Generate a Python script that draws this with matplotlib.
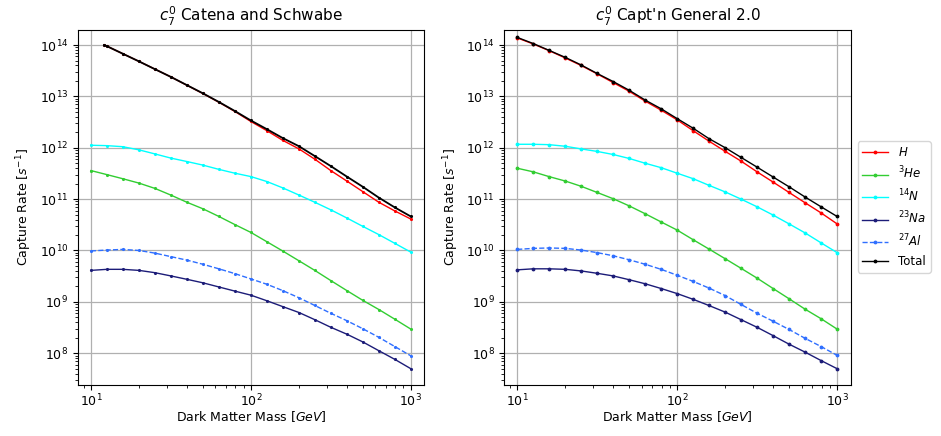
import matplotlib.pyplot as plt
import numpy as np

# dark matter masses (GeV), 0.1 decade steps
mass = [10, 12.6, 15.8, 20, 25.1, 31.6, 39.8, 50.1, 63.1, 79.4, 100,
        126, 158, 200, 251, 316, 398, 501, 631, 794, 1000]
# left panel H / Total start a bit later
mass_h_left = [12.1] + mass[1:]

# ---- Catena and Schwabe ----
cs_H = [1.0e14, 9.5e13, 6.8e13, 4.8e13, 3.4e13, 2.4e13, 1.65e13, 1.14e13, 7.7e12, 5.1e12, 3.25e12,
        2.15e12, 1.4e12, 9.5e11, 6.0e11, 3.6e11, 2.25e11, 1.4e11, 8.7e10, 5.9e10, 4.1e10]
cs_He3 = [3.6e11, 3.0e11, 2.5e11, 2.05e11, 1.62e11, 1.2e11, 8.7e10, 6.5e10, 4.6e10, 3.2e10, 2.25e10,
          1.48e10, 9.8e9, 6.3e9, 4.1e9, 2.6e9, 1.66e9, 1.07e9, 7.1e8, 4.6e8, 2.95e8]
cs_N14 = [1.12e12, 1.1e12, 1.05e12, 9.1e11, 7.6e11, 6.3e11, 5.4e11, 4.6e11, 3.8e11, 3.2e11, 2.75e11,
          2.2e11, 1.66e11, 1.2e11, 8.7e10, 6.2e10, 4.3e10, 2.95e10, 2.04e10, 1.38e10, 9.3e9]
cs_Na23 = [4.1e9, 4.3e9, 4.3e9, 4.1e9, 3.7e9, 3.2e9, 2.75e9, 2.35e9, 1.95e9, 1.62e9, 1.35e9,
           1.05e9, 8.1e8, 6.2e8, 4.5e8, 3.2e8, 2.35e8, 1.66e8, 1.12e8, 7.6e7, 5.0e7]
cs_Al27 = [9.8e9, 1.02e10, 1.05e10, 1.0e10, 8.9e9, 7.6e9, 6.5e9, 5.4e9, 4.4e9, 3.55e9, 2.8e9,
           2.2e9, 1.66e9, 1.2e9, 8.5e8, 6.0e8, 4.3e8, 3.0e8, 2.04e8, 1.35e8, 8.9e7]
cs_Total = [1.0e14, 9.5e13, 6.8e13, 4.8e13, 3.4e13, 2.4e13, 1.66e13, 1.15e13, 7.8e12, 5.2e12, 3.4e12,
            2.3e12, 1.55e12, 1.07e12, 6.9e11, 4.4e11, 2.75e11, 1.74e11, 1.07e11, 6.9e10, 4.6e10]

# ---- Capt'n General 2.0 ----
cg_H = [1.38e14, 1.05e14, 7.8e13, 5.6e13, 4.0e13, 2.75e13, 1.86e13, 1.26e13, 8.1e12, 5.4e12, 3.5e12,
        2.15e12, 1.35e12, 8.5e11, 5.5e11, 3.4e11, 2.15e11, 1.35e11, 8.5e10, 5.4e10, 3.3e10]
cg_He3 = [4.0e11, 3.4e11, 2.75e11, 2.25e11, 1.78e11, 1.35e11, 1.02e11, 7.4e10, 5.2e10, 3.6e10, 2.5e10,
          1.62e10, 1.07e10, 6.9e9, 4.5e9, 2.9e9, 1.82e9, 1.15e9, 7.2e8, 4.7e8, 2.95e8]
cg_N14 = [1.17e12, 1.17e12, 1.15e12, 1.07e12, 9.5e11, 8.5e11, 7.4e11, 6.2e11, 5.0e11, 4.1e11, 3.2e11,
          2.5e11, 1.86e11, 1.38e11, 1.0e11, 7.1e10, 4.9e10, 3.3e10, 2.2e10, 1.41e10, 9.1e9]
cg_Na23 = [4.2e9, 4.4e9, 4.4e9, 4.3e9, 4.0e9, 3.6e9, 3.2e9, 2.7e9, 2.25e9, 1.82e9, 1.45e9,
           1.12e9, 8.5e8, 6.3e8, 4.5e8, 3.2e8, 2.2e8, 1.5e8, 1.05e8, 7.2e7, 5.0e7]
cg_Al27 = [1.05e10, 1.1e10, 1.12e10, 1.1e10, 1.02e10, 9.1e9, 7.9e9, 6.6e9, 5.4e9, 4.3e9, 3.3e9,
           2.5e9, 1.86e9, 1.32e9, 8.9e8, 6.0e8, 4.2e8, 2.9e8, 1.95e8, 1.35e8, 9.1e7]
cg_Total = [1.41e14, 1.07e14, 7.9e13, 5.75e13, 4.1e13, 2.8e13, 1.95e13, 1.32e13, 8.5e12, 5.75e12, 3.7e12,
            2.4e12, 1.51e12, 1.0e12, 6.5e11, 4.2e11, 2.7e11, 1.74e11, 1.1e11, 7.1e10, 4.6e10]

labels = ['$H$', '$^3He$', '$^{14}N$', '$^{23}Na$', '$^{27}Al$', 'Total']
colors = ['red', 'limegreen', 'cyan', '#1c1c78', '#2f6fff', 'black']
styles = ['-', '-', '-', '-', '--', '-']

fig = plt.figure(figsize=(9.41, 4.36), dpi=100)
ax1 = fig.add_axes([0.083, 0.118, 0.368, 0.814])
ax2 = fig.add_axes([0.536, 0.118, 0.368, 0.814])

left_series = [cs_H, cs_He3, cs_N14, cs_Na23, cs_Al27, cs_Total]
right_series = [cg_H, cg_He3, cg_N14, cg_Na23, cg_Al27, cg_Total]

for i in range(len(labels)):
    x = mass_h_left if i in (0, 5) else mass
    ax1.plot(x, left_series[i], color=colors[i], linestyle=styles[i],
             marker='.', markersize=2.5, linewidth=1.3 if i == 5 else 1.0,
             label=labels[i])
    ax2.plot(mass, right_series[i], color=colors[i], linestyle=styles[i],
             marker='.', markersize=3.5, linewidth=1.0, label=labels[i])

titles = ['$c_7^0$ Catena and Schwabe', "$c_7^0$ Capt'n General 2.0"]
for ax, t in zip([ax1, ax2], titles):
    ax.set_xscale('log')
    ax.set_yscale('log')
    ax.set_xlim(10**0.92, 10**3.085)
    ax.set_ylim(10**7.39, 10**14.30)
    ax.grid(True, which='major', color='#b0b0b0', linewidth=0.9)
    ax.set_title(t, fontsize=11)
    ax.set_xlabel('Dark Matter Mass $[GeV]$', fontsize=9, labelpad=0)
    ax.set_ylabel('Capture Rate $[s^{-1}]$', fontsize=9)
    ax.tick_params(labelsize=9)
    ax.tick_params(axis='x', pad=2.5)

ax2.legend(loc='center left', bbox_to_anchor=(1.01, 0.5), fontsize=8.5,
           handlelength=2.2, borderaxespad=0.3)

plt.savefig('out.png', dpi=100)
